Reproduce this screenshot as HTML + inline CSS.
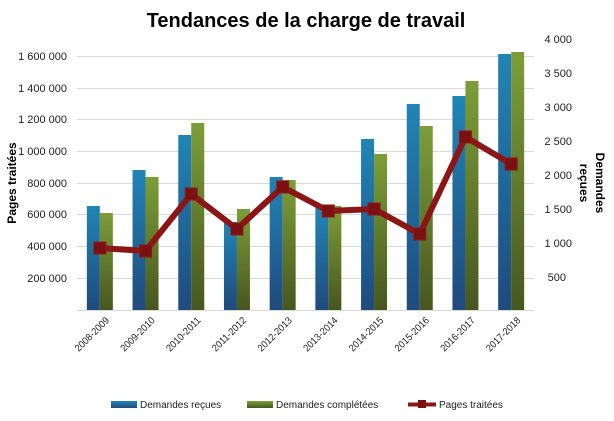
<!DOCTYPE html><html><head><meta charset="utf-8"><style>body{margin:0;background:#fff}svg{display:block;font-family:"Liberation Sans",sans-serif}</style></head><body>
<svg width="614" height="421" xmlns="http://www.w3.org/2000/svg">
<defs>
<linearGradient id="gb" x1="0" y1="0" x2="0" y2="1"><stop offset="0" stop-color="#2185b5"/><stop offset="1" stop-color="#204a7c"/></linearGradient>
<linearGradient id="gg" x1="0" y1="0" x2="0" y2="1"><stop offset="0" stop-color="#7c9e38"/><stop offset="1" stop-color="#47561f"/></linearGradient>
</defs>
<text x="306" y="27" text-anchor="middle" font-size="20" font-weight="bold" fill="#000">Tendances de la charge de travail</text>
<g stroke="#d9d9d9" stroke-width="1">
<line x1="77" x2="534" y1="56.5" y2="56.5"/><line x1="77" x2="534" y1="88.5" y2="88.5"/><line x1="77" x2="534" y1="119.5" y2="119.5"/><line x1="77" x2="534" y1="151.5" y2="151.5"/><line x1="77" x2="534" y1="183.5" y2="183.5"/><line x1="77" x2="534" y1="214.5" y2="214.5"/><line x1="77" x2="534" y1="246.5" y2="246.5"/><line x1="77" x2="534" y1="278.5" y2="278.5"/><line x1="77" x2="534" y1="310.5" y2="310.5"/>
</g>
<g font-size="11" fill="#222" text-anchor="end">
<text x="67" y="60">1 600 000</text><text x="67" y="92">1 400 000</text><text x="67" y="123">1 200 000</text><text x="67" y="155">1 000 000</text><text x="67" y="187">800 000</text><text x="67" y="218">600 000</text><text x="67" y="250">400 000</text><text x="67" y="282">200 000</text>
</g>
<g font-size="11" fill="#222" text-anchor="end">
<text x="572" y="43">4 000</text><text x="572" y="77">3 500</text><text x="572" y="111">3 000</text><text x="572" y="145">2 500</text><text x="572" y="179">2 000</text><text x="572" y="213">1 500</text><text x="572" y="247">1 000</text><text x="566" y="281">500</text>
</g>
<text transform="translate(16,183) rotate(-90)" text-anchor="middle" font-size="12" font-weight="bold">Pages traitées</text>
<text transform="translate(596,183) rotate(90)" text-anchor="middle" font-size="12" font-weight="bold">Demandes</text>
<text transform="translate(580,183) rotate(90)" text-anchor="middle" font-size="12" font-weight="bold">reçues</text>
<g id="bars"></g>
<polyline id="ln" fill="none" stroke="#8c1515" stroke-width="6" stroke-linejoin="miter"/>
<g id="mk"></g>
<g id="xl" font-size="10" fill="#222"></g>
<g font-size="10" fill="#222">
<rect x="111" y="401" width="26" height="7" fill="url(#gb)"/><text x="140" y="408">Demandes reçues</text>
<rect x="247" y="401" width="26" height="7" fill="url(#gg)"/><text x="276" y="408">Demandes complétées</text>
<line x1="408" x2="436" y1="404.5" y2="404.5" stroke="#8c1515" stroke-width="4"/><rect x="418" y="400" width="8" height="8" fill="#7a1010"/><text x="439" y="408">Pages traitées</text>
</g>
<script>
var b=[206,170,135,222,177,207,139,104,96,54],g=[213,177,123,209,180,206,154,126,81,52],l=[248,251,194,229,187,211,209,234,137,164];
var labs=["2008-2009","2009-2010","2010-2011","2011-2012","2012-2013","2013-2014","2014-2015","2015-2016","2016-2017","2017-2018"];
var ns="http://www.w3.org/2000/svg",B=document.getElementById("bars"),M=document.getElementById("mk"),X=document.getElementById("xl"),pts=[];
function el(t,a,p){var e=document.createElementNS(ns,t);for(var k in a)e.setAttribute(k,a[k]);p.appendChild(e);return e}
for(var i=0;i<10;i++){var c=77+45.7*(i+0.5);
el("rect",{x:c-13,y:b[i],width:13,height:310-b[i],fill:"url(#gb)"},B);
el("rect",{x:c,y:g[i],width:13,height:310-g[i],fill:"url(#gg)"},B);
pts.push(c+","+l[i]);
el("rect",{x:c-6,y:l[i]-6,width:12,height:12,fill:"#7a1010",stroke:"#901818","stroke-width":1},M);
var t=el("text",{transform:"translate("+(c+10)+",321) rotate(-45)","text-anchor":"end","textLength":"44","lengthAdjust":"spacingAndGlyphs"},X);t.textContent=labs[i];}
document.getElementById("ln").setAttribute("points",pts.join(" "));
</script>
</svg></body></html>
